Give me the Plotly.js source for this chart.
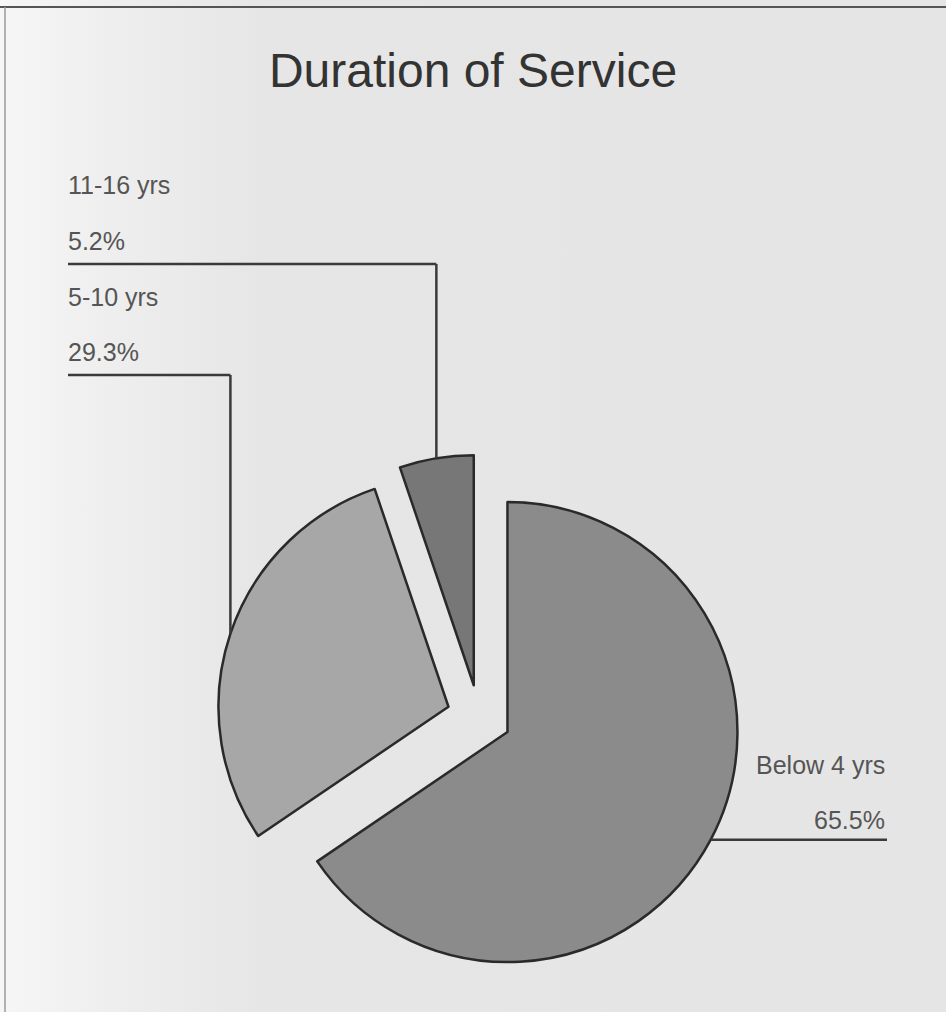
<!DOCTYPE html>
<html>
<head>
<meta charset="utf-8">
<script src="https://cdn.plot.ly/plotly-3.0.1.min.js"></script>
<style>
  html, body { margin: 0; padding: 0; }
  body { width: 946px; height: 1012px; overflow: hidden;
         background: linear-gradient(to right, #f6f6f6 0%, #eeeeee 12%, #e6e6e6 28%, #e5e5e5 100%); }
  #chart { width: 946px; height: 1012px; }
</style>
</head>
<body>
<div id="chart"></div>
<script>
// ---- data ----
const categories = ['Below 4 yrs', '5-10 yrs', '11-16 yrs'];
const values = [65.5, 29.3, 5.2];
const percentLabels = ['65.5%', '29.3%', '5.2%'];
const sliceColors = ['#8b8b8b', '#a7a7a7', '#777777'];
const pulls = [0.14, 0.14, 0.14];

// ---- layout geometry (pixels) ----
const W = 946, H = 1012;
const pieCx = 479, pieCy = 717, pieR = 230;
const maxPull = Math.max(...pulls);
const box = 2 * pieR * (1 + maxPull);
const domX = [(pieCx - box / 2) / W, (pieCx + box / 2) / W];
const domY = [1 - (pieCy + box / 2) / H, 1 - (pieCy - box / 2) / H];

const px2x = p => p / W;
const px2y = p => 1 - p / H;

// mid-angle point on each slice's arc (clockwise from 12 o'clock)
const total = values.reduce((a, b) => a + b, 0);
let acc = 0;
const mids = values.map((v, i) => {
  const a0 = acc / total * 2 * Math.PI;
  acc += v;
  const a1 = acc / total * 2 * Math.PI;
  const am = (a0 + a1) / 2;
  const ux = Math.sin(am), uy = -Math.cos(am);
  const off = pulls[i] * pieR;
  return [pieCx + ux * (off + pieR), pieCy + uy * (off + pieR)];
});

// label placement (layout)
const labelLeftX = 68;
const labelRightX = 887;
const lineColor = '#3a3a3a';
const textColor = '#555555';
const fontFam = 'Liberation Sans, Arial, sans-serif';
const fs = 25;

const shapes = [];
const annotations = [];

// 11-16 yrs (index 2): elbow up then left
const elbow2Y = 264;
shapes.push({type: 'line', xref: 'paper', yref: 'paper', x0: px2x(mids[2][0]), y0: px2y(mids[2][1]), x1: px2x(mids[2][0]), y1: px2y(elbow2Y), line: {color: lineColor, width: 2.5}});
shapes.push({type: 'line', xref: 'paper', yref: 'paper', x0: px2x(mids[2][0]), y0: px2y(elbow2Y), x1: px2x(labelLeftX), y1: px2y(elbow2Y), line: {color: lineColor, width: 2.5}});
annotations.push({xref: 'paper', yref: 'paper', x: px2x(labelLeftX - 2), y: px2y(185), xanchor: 'left', yanchor: 'middle', showarrow: false, text: categories[2], font: {family: fontFam, size: fs, color: textColor}});
annotations.push({xref: 'paper', yref: 'paper', x: px2x(labelLeftX - 2), y: px2y(241), xanchor: 'left', yanchor: 'middle', showarrow: false, text: percentLabels[2], font: {family: fontFam, size: fs, color: textColor}});

// 5-10 yrs (index 1)
const elbow1Y = 375;
shapes.push({type: 'line', xref: 'paper', yref: 'paper', x0: px2x(mids[1][0]), y0: px2y(mids[1][1]), x1: px2x(mids[1][0]), y1: px2y(elbow1Y), line: {color: lineColor, width: 2.5}});
shapes.push({type: 'line', xref: 'paper', yref: 'paper', x0: px2x(mids[1][0]), y0: px2y(elbow1Y), x1: px2x(labelLeftX), y1: px2y(elbow1Y), line: {color: lineColor, width: 2.5}});
annotations.push({xref: 'paper', yref: 'paper', x: px2x(labelLeftX - 2), y: px2y(297), xanchor: 'left', yanchor: 'middle', showarrow: false, text: categories[1], font: {family: fontFam, size: fs, color: textColor}});
annotations.push({xref: 'paper', yref: 'paper', x: px2x(labelLeftX - 2), y: px2y(352), xanchor: 'left', yanchor: 'middle', showarrow: false, text: percentLabels[1], font: {family: fontFam, size: fs, color: textColor}});

// Below 4 yrs (index 0): horizontal to the right
shapes.push({type: 'line', xref: 'paper', yref: 'paper', x0: px2x(mids[0][0]), y0: px2y(mids[0][1]), x1: px2x(labelRightX), y1: px2y(mids[0][1]), line: {color: lineColor, width: 2.5}});
annotations.push({xref: 'paper', yref: 'paper', x: px2x(labelRightX), y: px2y(765), xanchor: 'right', yanchor: 'middle', showarrow: false, text: categories[0], font: {family: fontFam, size: fs, color: textColor}});
annotations.push({xref: 'paper', yref: 'paper', x: px2x(labelRightX), y: px2y(820), xanchor: 'right', yanchor: 'middle', showarrow: false, text: percentLabels[0], font: {family: fontFam, size: fs, color: textColor}});

// frame lines (scan border)
shapes.push({type: 'line', xref: 'paper', yref: 'paper', x0: 0, x1: 1, y0: px2y(7), y1: px2y(7), line: {color: '#555555', width: 2}});
shapes.push({type: 'line', xref: 'paper', yref: 'paper', x0: px2x(5), x1: px2x(5), y0: px2y(7), y1: px2y(1012), line: {color: '#9a9a9a', width: 1.5}});

const trace = {
  type: 'pie',
  labels: categories,
  values: values,
  sort: false,
  direction: 'clockwise',
  rotation: 0,
  pull: pulls,
  textinfo: 'none',
  hoverinfo: 'label+percent',
  showlegend: false,
  marker: {colors: sliceColors, line: {color: '#2a2a2a', width: 2.5}},
  domain: {x: domX, y: domY}
};

const layout = {
  width: W, height: H,
  margin: {l: 0, r: 0, t: 0, b: 0},
  paper_bgcolor: 'rgba(0,0,0,0)',
  plot_bgcolor: 'rgba(0,0,0,0)',
  showlegend: false,
  title: {text: 'Duration of Service', x: 0.5, xanchor: 'center', y: 1 - 70 / H, yanchor: 'middle',
          font: {family: fontFam, size: 48, color: '#333333'}},
  shapes: shapes,
  annotations: annotations
};

Plotly.newPlot('chart', [trace], layout, {displayModeBar: false, staticPlot: true});
</script>
</body>
</html>
